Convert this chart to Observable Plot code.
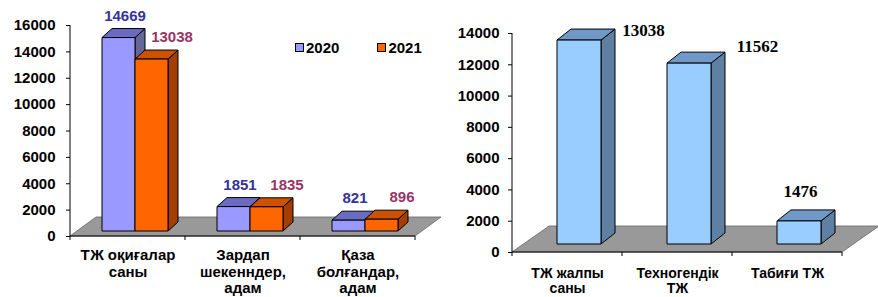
<!DOCTYPE html>
<html><head><meta charset="utf-8">
<script src="https://cdn.jsdelivr.net/npm/d3@7"></script>
<script src="https://cdn.jsdelivr.net/npm/@observablehq/plot@0.6"></script>
<style>
body{margin:0;background:#fff;}
#wrap{position:relative;width:878px;height:297px;display:flex;}
#wrap svg{display:block;overflow:visible;}
.legend{position:absolute;top:39px;left:295px;font:bold 15px "Liberation Sans",Arial,sans-serif;display:flex;gap:38px;color:#000;}
.legend .it{display:flex;align-items:center;}
.legend .sw{width:7px;height:7px;border:1px solid #000;margin-right:2px;}
</style></head><body><div id="wrap"></div>
<script>
// ---- data: left chart ----
const categoriesA = ["ТЖ оқиғалар\nсаны", "Зардап\nшекенндер,\nадам", "Қаза\nболғандар,\nадам"];
const seriesA = ["2020", "2021"];
const values2020 = [14669, 1851, 821];
const values2021 = [13038, 1835, 896];
const yTicksA = [0, 2000, 4000, 6000, 8000, 10000, 12000, 14000, 16000];

// ---- data: right chart ----
const categoriesB = ["ТЖ жалпы\nсаны", "Техногендік\nТЖ", "Табиғи ТЖ"];
const valuesB = [13038, 11562, 1476];
const yTicksB = [0, 2000, 4000, 6000, 8000, 10000, 12000, 14000];

// ---- styles ----
const FONT = "Liberation Sans, Arial, sans-serif";
const colA = {
  "2020": {front: "#9999FF", top: "#6B6BC4", side: "#666699", label: "#333399"},
  "2021": {front: "#FF6600", top: "#CC5200", side: "#A33D00", label: "#993366"}
};
const colB = {front: "#99CCFF", top: "#7099C8", side: "#5F7FA3", label: "#000"};
const labelNudgeB = [[76, -18], [80, -25], [13, -38]];

const rowsA = categoriesA.flatMap((c, i) => [
  {cat: c, series: seriesA[0], value: values2020[i]},
  {cat: c, series: seriesA[1], value: values2021[i]}
]);
const rowsB = categoriesB.map((c, i) => ({cat: c, value: valuesB[i]}));

function bw(x) { return typeof x.bandwidth === "function" ? x.bandwidth() : x.bandwidth; }

function floorMark({dx, dy}) {
  return (index, {x, y}) => {
    const g = d3.create("svg:g");
    const [r0, r1] = x.range();
    const y0 = y(0), yTop = y(y.domain()[1]);
    g.append("path")
      .attr("d", `M${r0},${y0}L${r0 + dx},${y0 + dy}L${r1 + dx},${y0 + dy}L${r1},${y0}Z`)
      .attr("fill", "#999999").attr("stroke", "#666").attr("stroke-width", 0.8);
    g.append("line").attr("x1", r0).attr("x2", r1).attr("y1", y0).attr("y2", y0)
      .attr("stroke", "#000");
    g.append("line").attr("x1", r0).attr("x2", r0).attr("y1", y0).attr("y2", yTop)
      .attr("stroke", "#000");
    const bounds = x.domain().map(c => x(c)).concat([r1]);
    for (const b of bounds) {
      g.append("line").attr("x1", b).attr("x2", b).attr("y1", y0).attr("y2", y0 + 4)
        .attr("stroke", "#000");
    }
    return g.node();
  };
}

function bars3d(rows, {width, shift, offY, dx, dy, colors}) {
  return (index, {x, y}) => {
    const g = d3.create("svg:g").attr("stroke", "#000").attr("stroke-width", 1).attr("stroke-linejoin", "round");
    for (const r of rows) {
      const c = colors(r);
      const cx = x(r.cat) + bw(x) / 2 + shift(r);
      const x0 = cx - width / 2, x1 = cx + width / 2;
      const yb = y(0) + offY, yt = y(r.value) + offY;
      g.append("path").attr("fill", c.side)
        .attr("d", `M${x1},${yb}L${x1 + dx},${yb + dy}L${x1 + dx},${yt + dy}L${x1},${yt}Z`);
      g.append("path").attr("fill", c.top)
        .attr("d", `M${x0},${yt}L${x0 + dx},${yt + dy}L${x1 + dx},${yt + dy}L${x1},${yt}Z`);
      g.append("rect").attr("fill", c.front)
        .attr("x", x0).attr("y", yt).attr("width", width).attr("height", yb - yt);
    }
    return g.node();
  };
}

const left = Plot.plot({
  width: 440, height: 297,
  marginLeft: 70, marginRight: 25, marginTop: 25, marginBottom: 61,
  x: {type: "band", domain: categoriesA, padding: 0, label: null},
  y: {domain: [0, 16000], label: null},
  style: {fontFamily: FONT, background: "transparent", color: "#000"},
  marks: [
    floorMark({dx: 26, dy: -19}),
    bars3d(rowsA, {width: 33, shift: r => r.series === "2020" ? -9 : 24, offY: -5, dx: 10, dy: -9,
      colors: r => colA[r.series]}),
    Plot.axisY({ticks: yTicksA, tickFormat: d => String(d), tickSize: 4, tickPadding: 11,
      fontSize: 15, fontWeight: "bold", label: null, stroke: "#000"}),
    Plot.axisX({tickSize: 0, tickPadding: 12, fontSize: 15, fontWeight: "bold", lineHeight: 1.1, label: null}),
    Plot.text(rowsA.filter(r => r.series === "2020"), {x: "cat", y: "value", text: d => String(d.value),
      dx: -3, dy: -27, fill: colA["2020"].label, fontSize: 15, fontWeight: "bold"}),
    Plot.text(rowsA.filter(r => r.series === "2021"), {x: "cat", y: "value", text: d => String(d.value),
      dx: 44, dy: -27, fill: colA["2021"].label, fontSize: 15, fontWeight: "bold"})
  ]
});

const right = Plot.plot({
  width: 438, height: 297,
  marginLeft: 72, marginRight: 36, marginTop: 33, marginBottom: 45,
  x: {type: "band", domain: categoriesB, padding: 0, label: null},
  y: {domain: [0, 14000], label: null},
  style: {fontFamily: FONT, background: "transparent", color: "#000"},
  marks: [
    floorMark({dx: 37, dy: -26}),
    bars3d(rowsB, {width: 44, shift: () => 12, offY: -8, dx: 14, dy: -11, colors: () => colB}),
    Plot.axisY({ticks: yTicksB, tickFormat: d => String(d), tickSize: 4, tickPadding: 9,
      fontSize: 15, fontWeight: "bold", label: null}),
    Plot.axisX({tickSize: 0, tickPadding: 15, fontSize: 14, fontWeight: "bold", lineHeight: 1.05, label: null}),
    ...rowsB.map((r, i) => Plot.text([r], {x: "cat", y: "value", text: d => String(d.value),
      dx: labelNudgeB[i][0], dy: labelNudgeB[i][1], fill: colB.label,
      fontFamily: "Liberation Serif, Times New Roman, serif", fontSize: 17, fontWeight: "bold"}))
  ]
});

const wrap = document.getElementById("wrap");
wrap.append(left, right);
const legend = document.createElement("div");
legend.className = "legend";
for (const s of seriesA) {
  const it = document.createElement("div"); it.className = "it";
  const sw = document.createElement("span"); sw.className = "sw"; sw.style.background = colA[s].front;
  const t = document.createElement("span"); t.textContent = s;
  it.append(sw, t); legend.append(it);
}
wrap.append(legend);
</script>
</body></html>
